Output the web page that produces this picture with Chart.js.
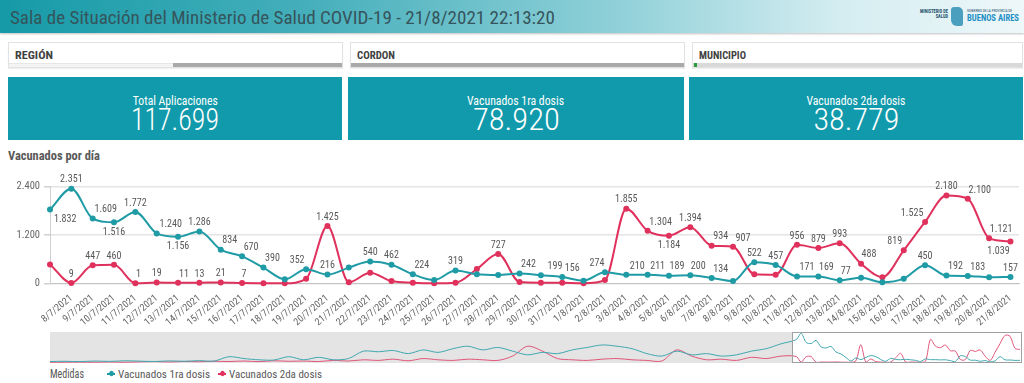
<!DOCTYPE html>
<html><head><meta charset="utf-8">
<script src="https://cdn.jsdelivr.net/npm/chart.js"></script>
<style>
html,body{margin:0;padding:0;}
body{width:1024px;height:383px;overflow:hidden;background:#fff;position:relative;font-family:Roboto,sans-serif;}
.abs{position:absolute;}
#hdr{left:0;top:0;width:1024px;height:33px;background:linear-gradient(90deg,#169aa7 0%,#45afbb 30%,#8fd0d8 60%,#d4edf1 82%,#eef7f9 100%);box-shadow:0 1px 2px rgba(0,0,0,.25);}
.fit{display:inline-block;white-space:nowrap;}
#title{left:10px;top:6px;font-size:19px;color:#36545b;transform-origin:0 50%;}
.fbox{top:42px;height:26px;background:#fff;border:1px solid #e2e2e2;box-sizing:border-box;box-shadow:0 1px 1px rgba(0,0,0,.06);}
.flab{left:6px;top:6px;font-size:10.5px;font-weight:bold;color:#404040;transform-origin:0 50%;}
.fbar{left:0;bottom:0;height:4px;}
.kpi{top:77px;height:63px;background:#109aab;color:#fff;text-align:center;}
.klab{position:absolute;left:0;right:0;top:16px;font-size:13px;}
.knum{position:absolute;left:0;right:0;top:26px;font-size:31px;line-height:34px;font-weight:300;}
.klab span,.knum span{transform-origin:50% 50%;}
#ctitle{left:8px;top:148px;font-size:12.5px;font-weight:bold;color:#595959;transform-origin:0 50%;}
#legend{left:50px;top:367px;font-size:12px;color:#595959;white-space:nowrap;}
.lg{position:absolute;top:0;transform-origin:0 50%;white-space:nowrap;}
</style></head><body>
<div id="hdr" class="abs"></div>
<div id="title" class="abs fit" data-w="545">Sala de Situación del Ministerio de Salud COVID-19 - 21/8/2021 22:13:20</div>
<div class="abs" style="left:912px;top:9px;width:36px;text-align:right;font-size:4.5px;line-height:5px;color:#1e4f6a;font-weight:bold;">MINISTERIO DE<br>SALUD</div>
<div class="abs" style="left:951px;top:7px;width:12px;height:19px;background:#2f8fb5;border-radius:3px 5px 2px 6px;opacity:.85;"></div>
<div class="abs" style="left:967px;top:9px;font-size:3.5px;line-height:4px;color:#1e4f6a;">GOBIERNO DE LA PROVINCIA DE</div>
<div class="abs fit" data-w="52" style="left:967px;top:14px;font-size:8.5px;line-height:9px;color:#1f8fc4;font-weight:bold;transform-origin:0 50%;">BUENOS AIRES</div>

<div class="abs fbox" style="left:8px;width:335px;"><div class="abs flab fit" data-w="38">REGIÓN</div>
 <div class="abs fbar" style="left:0;width:164px;background:#f4f4f4;border-top:1px solid #e6e6e6;box-sizing:border-box;"></div>
 <div class="abs fbar" style="left:164px;right:0;background:#a9a9a9;"></div></div>
<div class="abs fbox" style="left:350px;width:335px;"><div class="abs flab fit" data-w="38">CORDON</div>
 <div class="abs fbar" style="left:0;right:0;background:#a9a9a9;"></div></div>
<div class="abs fbox" style="left:692px;width:331px;"><div class="abs flab fit" data-w="47">MUNICIPIO</div>
 <div class="abs fbar" style="left:0;right:0;background:#d9d9d9;"></div>
 <div class="abs fbar" style="left:1px;width:3px;background:#2c9a3f;"></div></div>

<div class="abs kpi" style="left:8px;width:334px;"><div class="klab"><span class="fit" data-w="85">Total Aplicaciones</span></div><div class="knum"><span class="fit" data-w="88">117.699</span></div></div>
<div class="abs kpi" style="left:348px;width:336px;"><div class="klab"><span class="fit" data-w="97">Vacunados 1ra dosis</span></div><div class="knum"><span class="fit" data-w="87">78.920</span></div></div>
<div class="abs kpi" style="left:689px;width:334px;"><div class="klab"><span class="fit" data-w="99">Vacunados 2da dosis</span></div><div class="knum"><span class="fit" data-w="86">38.779</span></div></div>

<div id="ctitle" class="abs fit" data-w="92">Vacunados por día</div>
<canvas id="main" class="abs" width="1024" height="172" style="left:0;top:160px;"></canvas>
<canvas id="mini" class="abs" width="972" height="31" style="left:50px;top:332px;"></canvas>
<div id="legend" class="abs"></div>

<script>
// ---------------- data ----------------
const dates = ['7/7/2021','8/7/2021','9/7/2021','10/7/2021','11/7/2021','12/7/2021','13/7/2021','14/7/2021','15/7/2021','16/7/2021','17/7/2021','18/7/2021','19/7/2021','20/7/2021','21/7/2021','22/7/2021','23/7/2021','24/7/2021','25/7/2021','26/7/2021','27/7/2021','28/7/2021','29/7/2021','30/7/2021','31/7/2021','1/8/2021','2/8/2021','3/8/2021','4/8/2021','5/8/2021','6/8/2021','7/8/2021','8/8/2021','9/8/2021','10/8/2021','11/8/2021','12/8/2021','13/8/2021','14/8/2021','15/8/2021','16/8/2021','17/8/2021','18/8/2021','19/8/2021','20/8/2021','21/8/2021'];
const primeraDosis = [1832,2351,1609,1516,1772,1240,1156,1286,834,670,390,100,352,216,390,540,462,224,80,319,225,205,242,199,156,66,274,210,211,189,200,134,55,522,457,171,169,77,140,25,115,450,192,183,150,157];
const segundaDosis = [470,9,447,460,1,19,11,13,21,7,3,1,110,1425,25,265,55,15,2,15,355,727,30,15,12,3,80,1855,1304,1184,1394,934,907,225,215,956,879,993,488,150,819,1525,2180,2100,1121,1039];
const yTickValues = [0,1200,2400];
// overview (scroll bar) history before 7/7/2021, one value every 3 days
const histPrimera = [60,80,50,100,70,120,90,60,110,80,130,100,450,300,200,180,450,200,400,200,300,900,850,950,700,1000,800,1100,1300,1000,1200,900,600,800,700,1000,1200,1400,1300,1100,700,500,900,600,700,500,600,900,1100,1500];
const histSegunda = [0,0,10,0,20,0,30,50,20,60,40,80,60,100,50,120,80,100,60,150,100,200,150,250,120,300,200,150,250,200,150,500,1300,900,300,200,150,250,300,200,150,100,1000,500,200,250,150,400,300,500];
const seriesNames = ['Vacunados 1ra dosis','Vacunados 2da dosis'];

// ---------------- presentation ----------------
const TEAL = '#1f9ba6', RED = '#e0315d';
const placement = [
 'baabaabaaaahaahaaahahhaaahaaaaaahaaaaahhhaaaha',
 'haaaaaaaaahhhahhhhhhhahhhhhaabaaahhaaaahaaaaab'
];
const shifts = [
 {2:13,5:14,8:9,9:9,10:9,12:-9,17:9,22:9,23:14,24:10,26:-8,27:11,28:10,29:8,30:8,31:9,35:10,36:8,37:6,42:9,43:10},
 {4:3,6:6,9:2,28:13,31:9,32:10,38:8,40:-9,41:-13,43:12,44:12,45:-12}
];

const tc = document.createElement('canvas').getContext('2d');
const TS = '0123456789 abcdefghijklmnopqrstuvwxyz';
function has(f){ tc.font='20px "'+f+'", monospace'; const a=tc.measureText(TS).width; tc.font='20px "'+f+'", serif'; return Math.abs(a-tc.measureText(TS).width)<0.01; }
function wid(f){ tc.font='20px '+f; return tc.measureText(TS).width; }
let NARROW = 'DejaVu Sans Condensed';
if (has('Roboto Condensed') && wid('"Roboto Condensed"') < 0.95 * wid('Roboto')) NARROW = 'Roboto Condensed';
const FAM = '"'+NARROW+'", "DejaVu Sans Condensed", Roboto, sans-serif';
document.body.style.fontFamily = FAM;
Chart.defaults.font.family = FAM;

document.querySelectorAll('.fit').forEach(el => {
  const w = el.getBoundingClientRect().width, t = +el.dataset.w;
  if (w > 0 && t) el.style.transform = 'scaleX(' + (t / w).toFixed(3) + ')';
});

const fmt = v => String(Math.round(v)).replace(/\B(?=(\d{3})+(?!\d))/g, '.');

const labelPlugin = {
  id: 'valueLabels',
  afterDatasetsDraw(chart){
    const ctx = chart.ctx, area = chart.chartArea;
    ctx.save();
    ctx.font = '11px ' + FAM;
    const sx = 22.5 / ctx.measureText('2.351').width;
    ctx.fillStyle = '#595959';
    ctx.textAlign = 'center';
    ctx.textBaseline = 'middle';
    chart.data.datasets.forEach((ds, di) => {
      const meta = chart.getDatasetMeta(di);
      meta.data.forEach((pt, i) => {
        const c = placement[di][i];
        if (c === 'h') return;
        const txt = fmt(ds.data[i].y);
        const w = ctx.measureText(txt).width * sx;
        let x = pt.x + (shifts[di][i] || 0);
        x = Math.max(area.left + 4 + w/2, Math.min(area.right - w/2 + 2, x));
        const y = pt.y + (c === 'a' ? -9 : 9.5);
        ctx.save(); ctx.translate(x, y); ctx.scale(sx, 1); ctx.fillText(txt, 0, 0); ctx.restore();
      });
    });
    ctx.restore();
  }
};

const main = new Chart(document.getElementById('main'), {
  type: 'line',
  data: { datasets: [
    { label: seriesNames[0], data: primeraDosis.map((v,i)=>({x:i,y:v})), borderColor: TEAL, backgroundColor: TEAL,
      borderWidth: 2, pointRadius: 3, pointBorderWidth: 0, cubicInterpolationMode: 'monotone', clip: false },
    { label: seriesNames[1], data: segundaDosis.map((v,i)=>({x:i,y:v})), borderColor: RED, backgroundColor: RED,
      borderWidth: 2, pointRadius: 3, pointBorderWidth: 0, cubicInterpolationMode: 'monotone', clip: false }
  ]},
  options: {
    responsive: false, animation: false, events: [],
    layout: { padding: { left: 8, right: 5, top: 27, bottom: 4 } },
    plugins: { legend: { display: false }, tooltip: { enabled: false } },
    scales: {
      x: { type: 'linear', min: 0, max: 45.4,
        afterBuildTicks: a => { a.ticks = dates.map((d,i)=>({value:i})); },
        ticks: { autoSkip: false, minRotation: 40, maxRotation: 40, padding: 1, color: '#666',
          font: { size: 10 }, callback: v => (v === 0 ? '' : dates[v]) },
        grid: { display: false }, border: { display: true, color: '#c4c4c4', width: 1 } },
      y: { min: 0, max: 2400,
        afterBuildTicks: a => { a.ticks = yTickValues.map(v=>({value:v})); },
        ticks: { color: '#666', font: { size: 10.5 }, padding: 4, callback: v => fmt(v) },
        grid: { color: '#e4e4e4', lineWidth: 1.5, tickLength: 6, tickColor: '#d0d0d0' },
        border: { display: true, color: '#d0d0d0', width: 1 } }
    }
  },
  plugins: [labelPlugin]
});

function fitArea(chart, t){
  for (let k=0;k<4;k++){
    const a = chart.chartArea, p = chart.options.layout.padding;
    p.left += t.left - a.left;
    p.top += t.top - a.top;
    p.right += a.right - t.right;
    p.bottom += a.bottom - t.bottom;
    chart.update('none');
  }
}
fitArea(main, {left:50, right:1019, top:26.7, bottom:123.3});

// ---------------- overview strip ----------------
const H = histPrimera.length, STEP = 3, START = -H*STEP;
const miniP = histPrimera.map((v,i)=>({x:START+i*STEP,y:v})).concat(primeraDosis.map((v,i)=>({x:i,y:v})));
const miniS = histSegunda.map((v,i)=>({x:START+i*STEP,y:v})).concat(segundaDosis.map((v,i)=>({x:i,y:v})));
const bgPlugin = {
  id: 'overviewBg',
  beforeDatasetsDraw(chart){
    const {ctx, chartArea: a, scales: {x}} = chart;
    const wx = x.getPixelForValue(-0.8);
    ctx.save(); ctx.fillStyle = '#e4e4e4';
    ctx.fillRect(a.left, a.top, wx - a.left, a.bottom - a.top); ctx.restore();
  },
  afterDatasetsDraw(chart){
    const {ctx, chartArea: a, scales: {x}} = chart;
    const wx = x.getPixelForValue(-0.8);
    ctx.save(); ctx.strokeStyle = '#a0a0a0'; ctx.lineWidth = 1;
    ctx.strokeRect(Math.round(wx)+0.5, a.top+0.5, a.right - Math.round(wx) - 1, a.bottom - a.top - 1); ctx.restore();
  }
};
new Chart(document.getElementById('mini'), {
  type: 'line',
  data: { datasets: [
    { data: miniP, borderColor: '#3fa9b1', borderWidth: 1, pointRadius: 0, tension: 0.3 },
    { data: miniS, borderColor: '#e2557a', borderWidth: 1, pointRadius: 0, tension: 0.3 }
  ]},
  options: {
    responsive: false, animation: false, events: [],
    layout: { padding: 0 },
    plugins: { legend: { display: false }, tooltip: { enabled: false } },
    scales: { x: { type: 'linear', display: false, min: START, max: 45.4 }, y: { display: false, min: -60, max: 2450 } }
  },
  plugins: [bgPlugin]
});

// ---------------- legend ----------------
const lg = document.getElementById('legend');
const items = [['Medidas', null, 0, 34, 12], [seriesNames[0], TEAL, 68, 92, 10.5], [seriesNames[1], RED, 179, 93, 10.5]];
items.forEach(([txt, col, x, w, fs]) => {
  if (col) {
    const m = document.createElement('div');
    m.className = 'abs';
    m.style.cssText = 'left:'+(x-11)+'px;top:6px;width:8px;height:2px;background:'+col+';';
    lg.appendChild(m);
    const d = document.createElement('div');
    d.className = 'abs';
    d.style.cssText = 'left:'+(x-9)+'px;top:4px;width:5px;height:5px;border-radius:3px;background:'+col+';transform:rotate(45deg);';
    lg.appendChild(d);
  }
  const s = document.createElement('div');
  s.className = 'lg'; s.style.left = x+'px'; s.style.fontSize = fs+'px'; s.style.top = (fs>11?0:1)+'px';
  s.textContent = txt; lg.appendChild(s);
  const ww = s.getBoundingClientRect().width; s.style.transform = 'scaleX(' + (w/ww).toFixed(3) + ')';
});
</script>
</body></html>
